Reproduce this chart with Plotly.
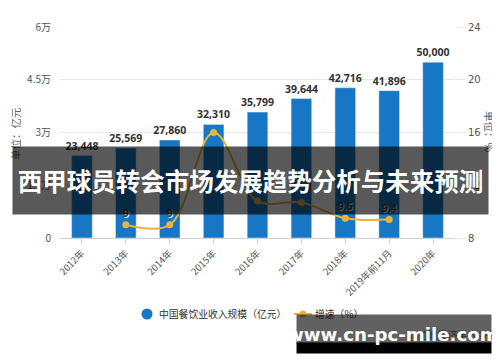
import plotly.graph_objects as go

categories = ["2012年", "2013年", "2014年", "2015年", "2016年", "2017年", "2018年", "2019年前11月", "2020年"]
revenue = [23448, 25569, 27860, 32310, 35799, 39644, 42716, 41896, 50000]
growth_cats = ["2013年", "2014年", "2015年", "2016年", "2017年", "2018年", "2019年前11月"]
growth = [9.0, 9.0, 16.0, 10.8, 10.7, 9.5, 9.4]
growth_labels = ["9", "9", "", "", "", "9.5", "9.4"]
left_ticks = [0, 15000, 30000, 45000, 60000]
left_ticktext = ["0", "1.5万", "3万", "4.5万", "6万"]
right_ticks = [8, 12, 16, 20, 24]

BLUE = "#1777c4"
GOLD = "#e8b43a"
CJK = "Noto Sans CJK SC"

# page body has an 8px margin; plot area in screen px: x 60..455, y 27..238
OFF = 8
PX0, PX1, PY0, PY1 = 60, 455, 27, 238
W, H = 500 - OFF, 362 - OFF

fig = go.Figure()
fig.add_trace(go.Bar(
    x=categories, y=revenue, marker_color=BLUE, width=0.47,
    texttemplate="%{y:,}", textposition="outside", cliponaxis=False, constraintext="none",
    textfont=dict(family="Open Sans", size=10.5, color="#333", weight="bold"),
    showlegend=False, hoverinfo="skip",
))
fig.add_trace(go.Scatter(
    x=growth_cats, y=growth, yaxis="y2", mode="lines+markers+text",
    name="增速（%）", text=growth_labels, textposition="top center",
    textfont=dict(family="Open Sans", size=10.5, color="#444", weight="bold",
                  shadow="1px 1px 1px white"),
    line=dict(color=GOLD, width=2, shape="spline", smoothing=1.0),
    marker=dict(color=GOLD, size=7), cliponaxis=False, showlegend=False,
))

fig.update_layout(
    width=W, height=H, autosize=False,
    margin=dict(l=PX0 - OFF, r=W - (PX1 - OFF), t=PY0 - OFF, b=H - (PY1 - OFF), autoexpand=False),
    paper_bgcolor="white", plot_bgcolor="white",
    font=dict(family=CJK, color="#444"),
    showlegend=False,
    xaxis=dict(
        type="category", tickangle=-45, tickfont=dict(size=9.5, color="#555", family=CJK),
        showline=True, linecolor="#cfcfcf", ticks="outside", ticklen=5, tickcolor="#cfcfcf",
        showgrid=False, automargin=False,
    ),
    yaxis=dict(
        range=[0, 60000], tickvals=left_ticks, ticktext=left_ticktext,
        tickfont=dict(size=10, color="#555", family=CJK),
        showgrid=True, gridcolor="#e6e6e6", gridwidth=1, zeroline=False,
        ticks="outside", ticklen=6, tickcolor="rgba(0,0,0,0)", showline=False, automargin=False,
    ),
    yaxis2=dict(
        overlaying="y", side="right", range=[8, 24], tickvals=right_ticks,
        tickfont=dict(size=10, color="#555", family="DejaVu Sans"),
        showgrid=False, zeroline=False, ticks="outside", ticklen=10, tickcolor="#e6e6e6",
        showline=False, automargin=False,
    ),
)

def px_x(px):
    return (px - PX0) / (PX1 - PX0)

def px_y(py):
    return (PY1 - py) / (PY1 - PY0)

# custom legend (matching reference styling)
LY = 314
fig.add_shape(type="circle", xref="paper", yref="paper",
              x0=px_x(141.5), x1=px_x(152.5), y0=px_y(LY + 5.5), y1=px_y(LY - 5.5),
              fillcolor=BLUE, line=dict(width=0))
fig.add_shape(type="line", xref="paper", yref="paper",
              x0=px_x(294), x1=px_x(312), y0=px_y(LY), y1=px_y(LY),
              line=dict(color=GOLD, width=2))
fig.add_shape(type="circle", xref="paper", yref="paper",
              x0=px_x(299.5), x1=px_x(306.5), y0=px_y(LY + 3.5), y1=px_y(LY - 3.5),
              fillcolor=GOLD, line=dict(width=0))

annotations = [
    dict(text="中国餐饮业收入规模（亿元）", x=157, y=LY, xanchor="left", font=dict(size=9.8, color="#333")),
    dict(text="增速（%）", x=313, y=LY, xanchor="left", font=dict(size=9.8, color="#333")),
    dict(text="单位：亿元", x=15, y=134, textangle=-90, font=dict(size=10.5, color="#666")),
    dict(text="单位：%", x=490, y=132, textangle=90, font=dict(size=10.5, color="#666")),
    dict(text="@前瞻经济学人APP", x=406, y=334, xanchor="left", font=dict(size=10, color="#888")),
    dict(text=" ", x=394, y=329, width=194, height=28, bgcolor="rgba(0,0,0,0.62)", borderpad=0),
    dict(text=" ", x=394, y=348, width=194, height=10, bgcolor="#000", borderpad=0),
    dict(text="<b>www.cn-pc-mile.com</b>", x=393, y=334, font=dict(size=18.2, color="white", family="DejaVu Sans")),
    dict(text="<b>西甲球员转会市场发展趋势分析与未来预测</b>", x=250.5, y=180.5, width=475, height=67,
         bgcolor="rgba(0,0,0,0.65)", borderpad=0, font=dict(size=24.5, color="white", family=CJK)),
]
for a in annotations:
    px, py = a.pop("x"), a.pop("y")
    a.setdefault("xanchor", "center")
    fig.add_annotation(
        x=px_x(px), y=px_y(py), xref="paper", yref="paper",
        yanchor="middle", showarrow=False, **a,
    )

fig.write_html("out.html")
